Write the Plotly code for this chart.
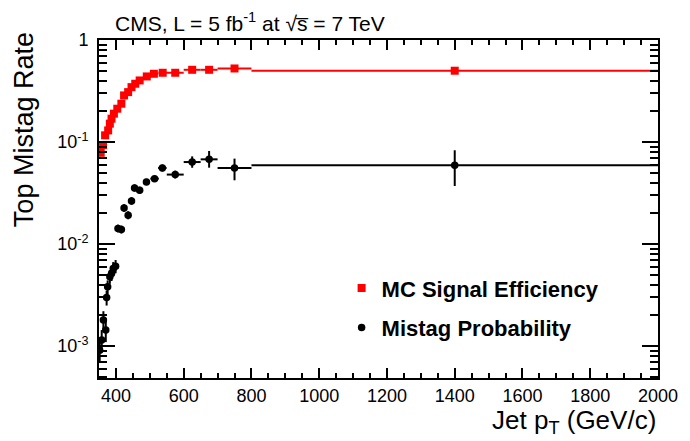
import plotly.graph_objects as go

# ---- data ----
sig_pt = [355, 362, 368, 377, 382, 387, 394, 404, 416, 424, 436, 446, 457, 470,
          491, 512, 538, 575, 625, 675, 750, 1400]
sig_eff = [0.0784, 0.0935, 0.1164, 0.130, 0.1514, 0.1694, 0.1897, 0.2122, 0.2375,
           0.2864, 0.3085, 0.3452, 0.3727, 0.4015, 0.4395, 0.4668, 0.4775, 0.4775,
           0.5105, 0.5105, 0.526, 0.500]
sig_err = [0.003, 0.003, 0.004, 0.004, 0.004, 0.005, 0.005, 0.005, 0.005, 0.006,
           0.006, 0.006, 0.006, 0.007, 0.007, 0.007, 0.007, 0.008, 0.008, 0.009,
           0.009, 0.010]
sig_binhalf = [5, 5, 5, 5, 5, 5, 5, 5, 5, 5, 5, 5, 5, 5,
               10, 12.5, 12.5, 25, 25, 25, 50, 600]

mis_pt = [352, 358, 363, 370, 372.5, 375.5, 382, 387, 392, 399, 406, 416, 424, 436,
          446, 455, 470, 490, 514, 537, 575, 625, 675, 750, 1400]
mis_rate = [0.000912, 0.001148, 0.0018, 0.001436, 0.0030, 0.00381, 0.00478, 0.00515,
            0.00577, 0.00608, 0.01422, 0.0139, 0.0226, 0.0192, 0.0265, 0.0355, 0.0337,
            0.0406, 0.0438, 0.0557, 0.048, 0.0637, 0.0677, 0.0557, 0.0591]
mis_err_up = [0.00023, 0.00029, 0.00040, 0.00035, 0.0005, 0.0006, 0.0008, 0.0008,
              0.0009, 0.0009, 0.0013, 0.0013, 0.0020, 0.0018, 0.0024, 0.0030, 0.0028,
              0.0030, 0.0030, 0.0045, 0.0045, 0.0087, 0.014, 0.0131, 0.024]
mis_err_dn = [0.00023, 0.00028, 0.00038, 0.00034, 0.0005, 0.0006, 0.0007, 0.0008,
              0.0008, 0.0009, 0.0012, 0.0012, 0.0019, 0.0017, 0.0022, 0.0028, 0.0026,
              0.0028, 0.0028, 0.0042, 0.0041, 0.0077, 0.0116, 0.0135, 0.022]
mis_binhalf = [2.5, 2.5, 2.5, 2.5, 2.5, 2.5, 2.5, 2.5, 2.5, 2.5, 5, 5, 5, 5,
               5, 5, 5, 10, 12.5, 12.5, 25, 25, 25, 50, 600]

x_major = [400, 600, 800, 1000, 1200, 1400, 1600, 1800, 2000]
y_major = [1e-3, 1e-2, 1e-1, 1]
y_major_text = ["10<sup>-3</sup>", "10<sup>-2</sup>", "10<sup>-1</sup>", "1"]
y_minor = [m * 10.0 ** e for e in (-4, -3, -2, -1) for m in range(2, 10)]

FONT = "Liberation Sans, Arial, Helvetica, sans-serif"
RED = "#ff0000"

fig = go.Figure()
fig.add_trace(go.Scatter(
    x=sig_pt, y=sig_eff, mode="markers",
    name="<b>MC Signal Efficiency</b>", legendgroup="a",
    marker=dict(symbol="square", size=8, color=RED),
    error_y=dict(type="data", array=sig_err, color=RED, thickness=2, width=0),
    error_x=dict(type="data", array=sig_binhalf, color=RED, thickness=2, width=0),
))
fig.add_trace(go.Scatter(
    x=mis_pt, y=mis_rate, mode="markers",
    name="<b>Mistag Probability</b>", legendgroup="b",
    marker=dict(symbol="circle", size=7.5, color="black"),
    error_y=dict(type="data", array=mis_err_up, arrayminus=mis_err_dn,
                 color="black", thickness=2, width=0),
    error_x=dict(type="data", array=mis_binhalf, color="black", thickness=2, width=0),
))

fig.update_layout(
    width=682, height=433,
    margin=dict(l=91, r=23, t=31.5, b=63),
    paper_bgcolor="white", plot_bgcolor="white",
    font=dict(family=FONT, size=18, color="black"),
    showlegend=True,
    legend=dict(x=0.434, y=0.328, xanchor="left", yanchor="top",
                bgcolor="rgba(0,0,0,0)", font=dict(size=22, family=FONT),
                tracegroupgap=8, itemwidth=30),
    xaxis=dict(range=[350, 2000], showgrid=False, zeroline=False,
               showline=True, linecolor="black", linewidth=2, mirror="ticks",
               ticks="inside", ticklen=10, tickwidth=1.5, tickcolor="black",
               tickvals=x_major, ticktext=[str(v) for v in x_major],
               tickfont=dict(size=18),
               minor=dict(ticks="inside", ticklen=5, tickwidth=1.5,
                          tickcolor="black", dtick=50, tick0=0)),
    yaxis=dict(type="log", range=[-3.312, 0], showgrid=False, zeroline=False,
               showline=True, linecolor="black", linewidth=2, mirror="ticks",
               ticks="inside", ticklen=16, tickwidth=1.5, tickcolor="black",
               tickvals=y_major, ticktext=y_major_text, tickfont=dict(size=18),
               ticklabelstandoff=5,
               minor=dict(ticks="inside", ticklen=8, tickwidth=1.5,
                          tickcolor="black", tickvals=y_minor)),
)

fig.add_annotation(
    text="CMS, L = 5 fb<sup>-1</sup> at \u221as\u0305 = 7 TeV",
    xref="paper", yref="paper", x=0.025, y=1.052, xanchor="left", yanchor="middle",
    showarrow=False, font=dict(size=21, family=FONT))
fig.add_annotation(
    text="Jet p<sub>T</sub> (GeV/c)",
    xref="paper", yref="paper", x=1.0, y=-0.13, xanchor="right", yanchor="middle",
    showarrow=False, font=dict(size=26, family=FONT))
fig.add_annotation(
    text="Top Mistag Rate",
    xref="paper", yref="paper", x=-0.134, y=1.028, xanchor="center", yanchor="top",
    textangle=-90, showarrow=False, font=dict(size=27, family=FONT))

fig.write_html("out.html")
